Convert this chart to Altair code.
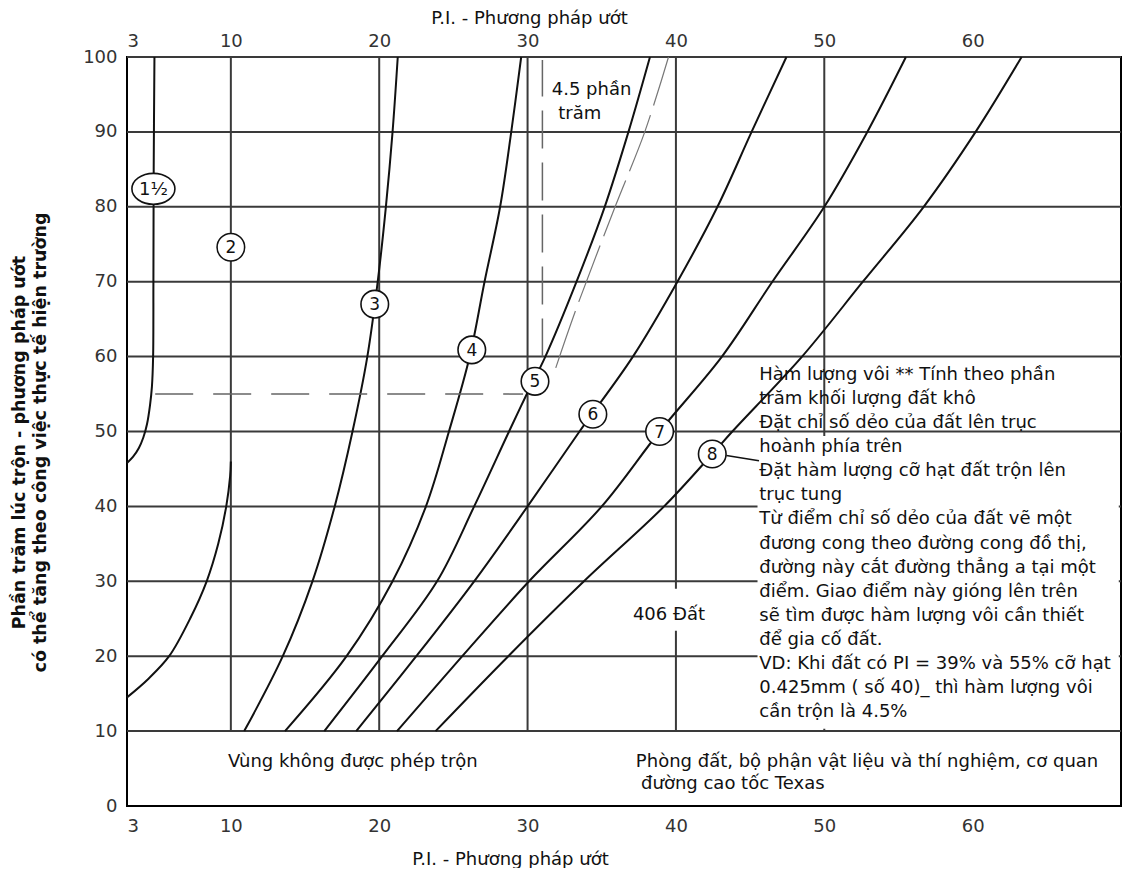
import altair as alt
import pandas as pd

FONT = "DejaVu Sans"
GRID = "#3a3a3a"
INK = "#111111"

# ---- axis ticks ----
x_ticks = [3, 10, 20, 30, 40, 50, 60]
y_ticks = [0, 10, 20, 30, 40, 50, 60, 70, 80, 90, 100]

# ---- grid lines (data coordinates) ----
hgrid_y = [10, 20, 30, 40, 50, 60, 70, 80, 90, 100]
hgrid_x0 = [3] * 10
hgrid_x1 = [70] * 10
vgrid_x = [10, 20, 30, 40, 50]
vgrid_y0 = [10, 10, 10, 10, 10]
vgrid_y1 = [100, 100, 100, 100, 100]

# ---- curves ----
c15_x = [3.0, 3.4, 3.8, 4.1, 4.35, 4.55, 4.68, 4.76, 4.78, 4.80, 4.85]
c15_y = [45.8, 46.6, 47.8, 49.2, 51.0, 53.5, 56.0, 60.0, 70.0, 85.0, 100.0]
c2_x = [3.0, 4.45, 5.84, 7.25, 8.37, 9.15, 9.69, 9.95, 10.0]
c2_y = [14.5, 17.0, 20.0, 25.0, 30.0, 35.0, 40.0, 44.0, 46.0]
c3_x = [10.9, 13.5, 15.5, 17.0, 18.2, 19.2, 19.9, 20.45, 20.9, 21.25]
c3_y = [10, 20, 30, 40, 50, 60, 70, 80, 90, 100]
c4_x = [13.65, 17.8, 20.9, 23.15, 24.7, 26.1, 27.1, 28.15, 28.9, 29.57]
c4_y = [10, 20, 30, 40, 50, 60, 70, 80, 90, 100]
c5_x = [16.3, 20.2, 23.9, 26.4, 28.75, 29.95, 31.2, 33.3, 35.2, 36.8, 38.25]
c5_y = [10, 20, 30, 40, 50, 55, 60, 70, 80, 90, 100]
c6_x = [18.45, 22.5, 26.4, 30.0, 33.5, 37.1, 40.1, 42.8, 45.1, 47.45]
c6_y = [10, 20, 30, 40, 50, 60, 70, 80, 90, 100]
c7_x = [21.2, 25.6, 30.1, 35.0, 38.9, 43.1, 46.5, 50.0, 52.9, 55.5]
c7_y = [10, 20, 30, 40, 50, 60, 70, 80, 90, 100]
c8_x = [23.8, 28.7, 33.8, 39.2, 42.45, 43.8, 48.5, 52.6, 56.7, 60.2, 63.3]
c8_y = [10, 20, 30, 40, 47, 50, 60, 70, 80, 90, 100]

# thin dashed line beside curve 5
a_x = [31.9, 33.3, 35.9, 37.9, 39.5]
a_y = [58.5, 66.5, 80.0, 90.0, 100.0]

# example guide lines (PI ~31, 55 %)
guide_h_x = [4.9, 29.7]
guide_h_y = [55, 55]
guide_v_x = [31.0, 31.0]
guide_v_y = [60.0, 99.6]

# circled curve labels
circ_labels = ["2", "3", "4", "5", "6", "7", "8"]
circ_x = [10.0, 19.7, 26.24, 30.5, 34.4, 38.9, 42.45]
circ_y = [74.6, 67.0, 60.9, 56.7, 52.3, 50.0, 47.0]
half_label = ["1½"]
half_x = [4.78]
half_y = [82.4]

# leader from circle 8 to the note
lead_x = [43.4, 45.6]
lead_y = [46.8, 46.1]

note_lines = [
    "Hàm lượng vôi ** Tính theo phần",
    "trăm khối lượng đất khô",
    "Đặt chỉ số dẻo của đất lên trục",
    "hoành phía trên",
    "Đặt hàm lượng cỡ hạt đất trộn lên",
    "trục tung",
    "Từ điểm chỉ số dẻo của đất vẽ một",
    "đương cong theo đường cong đồ thị,",
    "đường này cắt đường thẳng a tại một",
    "điểm. Giao điểm này gióng lên trên",
    "sẽ tìm được hàm lượng vôi cần thiết",
    "để gia cố đất.",
    "VD: Khi đất có PI = 39% và 55% cỡ hạt",
    "0.425mm ( số 40)_ thì hàm lượng vôi",
    "cần trộn là 4.5%",
]
note_x = 45.62
note_y = 58.77

# white masks (note box, gap for "406 Đất")
mask_x0 = [45.5, 37.2]
mask_x1 = [69.85, 42.2]
mask_y0 = [10.3, 23.4]
mask_y1 = [49.4, 29.0]

labels_text = ["4.5 phần", "trăm", "406 Đất", "Vùng không được phép trộn",
               "Phòng đất, bộ phận vật liệu và thí nghiệm, cơ quan",
               "đường cao tốc Texas"]
labels_x = [31.63, 32.07, 37.1, 9.8, 37.3, 37.65]
labels_y = [95.6, 92.4, 25.5, 5.9, 5.9, 2.95]

# ---------------------------------------------------------------
xs = alt.Scale(domain=[3, 70], nice=False, zero=False)
ys = alt.Scale(domain=[0, 100], nice=False, zero=False)

rows = []
for name, cx, cy in [("1½", c15_x, c15_y), ("2", c2_x, c2_y), ("3", c3_x, c3_y),
                     ("4", c4_x, c4_y), ("5", c5_x, c5_y), ("6", c6_x, c6_y),
                     ("7", c7_x, c7_y), ("8", c8_x, c8_y)]:
    for i, (a, b) in enumerate(zip(cx, cy)):
        rows.append({"curve": name, "i": i, "x": a, "y": b})
curves_df = pd.DataFrame(rows)

hgrid = alt.Chart(pd.DataFrame({"x0": hgrid_x0, "x1": hgrid_x1, "y": hgrid_y})).mark_rule(
    color=GRID, strokeWidth=2
).encode(
    x=alt.X("x0:Q", scale=xs, axis=alt.Axis(
        values=x_ticks, orient="bottom", labelPadding=11,
        title="P.I. - Phương pháp ướt", titleX=383, titleY=53,
        titleBaseline="middle", titleAlign="center")),
    x2="x1:Q",
    y=alt.Y("y:Q", scale=ys, axis=alt.Axis(
        values=y_ticks, labelPadding=10,
        title=["Phần trăm lúc trộn - phương pháp ướt",
               "có thể tăng theo công việc thực tế hiện trường"],
        titleX=-108, titleY=385, titleAngle=-90, titleAlign="center",
        titleBaseline="middle", titleFontWeight="bold", titleFontSize=17.5,
        titleLineHeight=21)),
)

vgrid = alt.Chart(pd.DataFrame({"x": vgrid_x, "y0": vgrid_y0, "y1": vgrid_y1})).mark_rule(
    color=GRID, strokeWidth=2
).encode(
    x=alt.X("x:Q", scale=xs, axis=alt.Axis(
        values=x_ticks, orient="top", labelPadding=7,
        title="P.I. - Phương pháp ướt", titleX=402, titleY=-39,
        titleBaseline="middle", titleAlign="center")),
    y=alt.Y("y0:Q", scale=ys, axis=None),
    y2="y1:Q",
)

curve_layer = alt.Chart(curves_df).mark_line(
    color=INK, strokeWidth=2, interpolate="catmull-rom"
).encode(
    x=alt.X("x:Q", scale=xs, axis=None),
    y=alt.Y("y:Q", scale=ys, axis=None),
    detail="curve:N",
    order="i:Q",
)

a_line = alt.Chart(pd.DataFrame({"x": a_x, "y": a_y, "i": range(len(a_x))})).mark_line(
    color="#777777", strokeWidth=1.2, strokeDash=[60, 10], interpolate="catmull-rom"
).encode(x=alt.X("x:Q", scale=xs, axis=None), y=alt.Y("y:Q", scale=ys, axis=None), order="i:Q")

guide_h = alt.Chart(pd.DataFrame({"x": guide_h_x, "y": guide_h_y})).mark_line(
    color="#666666", strokeWidth=1.5, strokeDash=[38, 20]
).encode(x=alt.X("x:Q", scale=xs, axis=None), y=alt.Y("y:Q", scale=ys, axis=None))

guide_v = alt.Chart(pd.DataFrame({"x": guide_v_x, "y": guide_v_y})).mark_line(
    color="#666666", strokeWidth=1.5, strokeDash=[38, 14]
).encode(x=alt.X("x:Q", scale=xs, axis=None), y=alt.Y("y:Q", scale=ys, axis=None), order="y:Q")

masks = alt.Chart(pd.DataFrame({"x0": mask_x0, "x1": mask_x1, "y0": mask_y0, "y1": mask_y1})).mark_rect(
    color="white"
).encode(
    x=alt.X("x0:Q", scale=xs, axis=None), x2="x1:Q",
    y=alt.Y("y0:Q", scale=ys, axis=None), y2="y1:Q",
)

lead = alt.Chart(pd.DataFrame({"x": lead_x, "y": lead_y})).mark_line(
    color=INK, strokeWidth=1.5
).encode(x=alt.X("x:Q", scale=xs, axis=None), y=alt.Y("y:Q", scale=ys, axis=None))

circ_df = pd.DataFrame({"t": circ_labels, "x": circ_x, "y": circ_y})
circles = alt.Chart(circ_df).mark_point(
    shape="circle", size=760, filled=True, fill="white", stroke=INK, strokeWidth=1.6, opacity=1
).encode(x=alt.X("x:Q", scale=xs, axis=None), y=alt.Y("y:Q", scale=ys, axis=None))
circ_text = alt.Chart(circ_df).mark_text(
    font=FONT, fontSize=17, color=INK, align="center", baseline="middle", dy=1
).encode(x=alt.X("x:Q", scale=xs, axis=None), y=alt.Y("y:Q", scale=ys, axis=None), text="t:N")

half_df = pd.DataFrame({"t": half_label, "x": half_x, "y": half_y})
ellipse = alt.Chart(half_df).mark_point(
    shape="M -1 0 A 1 0.72 0 1 1 1 0 A 1 0.72 0 1 1 -1 0 Z",
    size=1850, filled=True, fill="white", stroke=INK, strokeWidth=1.6, opacity=1
).encode(x=alt.X("x:Q", scale=xs, axis=None), y=alt.Y("y:Q", scale=ys, axis=None))
half_text = alt.Chart(half_df).mark_text(
    font=FONT, fontSize=18, color=INK, align="center", baseline="middle", dy=1
).encode(x=alt.X("x:Q", scale=xs, axis=None), y=alt.Y("y:Q", scale=ys, axis=None), text="t:N")

note = alt.Chart(pd.DataFrame({"t": [note_lines], "x": [note_x], "y": [note_y]})).mark_text(
    font=FONT, fontSize=18, color=INK, align="left", baseline="top", lineHeight=24.1
).encode(x=alt.X("x:Q", scale=xs, axis=None), y=alt.Y("y:Q", scale=ys, axis=None), text="t")

lbl_df = pd.DataFrame({"t": labels_text, "x": labels_x, "y": labels_y})
labels = alt.Chart(lbl_df).mark_text(
    font=FONT, fontSize=18, color=INK, align="left", baseline="middle"
).encode(x=alt.X("x:Q", scale=xs, axis=None), y=alt.Y("y:Q", scale=ys, axis=None), text="t:N")

chart = alt.layer(
    hgrid, vgrid, curve_layer, a_line, guide_h, guide_v, masks, lead,
    circles, circ_text, ellipse, half_text, note, labels
).resolve_axis(x="independent", y="independent").properties(
    width=994, height=749,
    autosize=alt.AutoSizeParams(type="none"),
    padding={"left": 119, "top": 49, "right": 6, "bottom": 62},
).configure_view(
    stroke="black", strokeWidth=2
).configure_axis(
    grid=False, domain=False, ticks=False,
    labelFont=FONT, labelFontSize=18, labelColor="#333333",
    titleFont=FONT, titleFontSize=18, titleFontWeight="normal", titleColor=INK,
)

chart.save("out.html", embed_options={"renderer": "svg", "actions": False})
